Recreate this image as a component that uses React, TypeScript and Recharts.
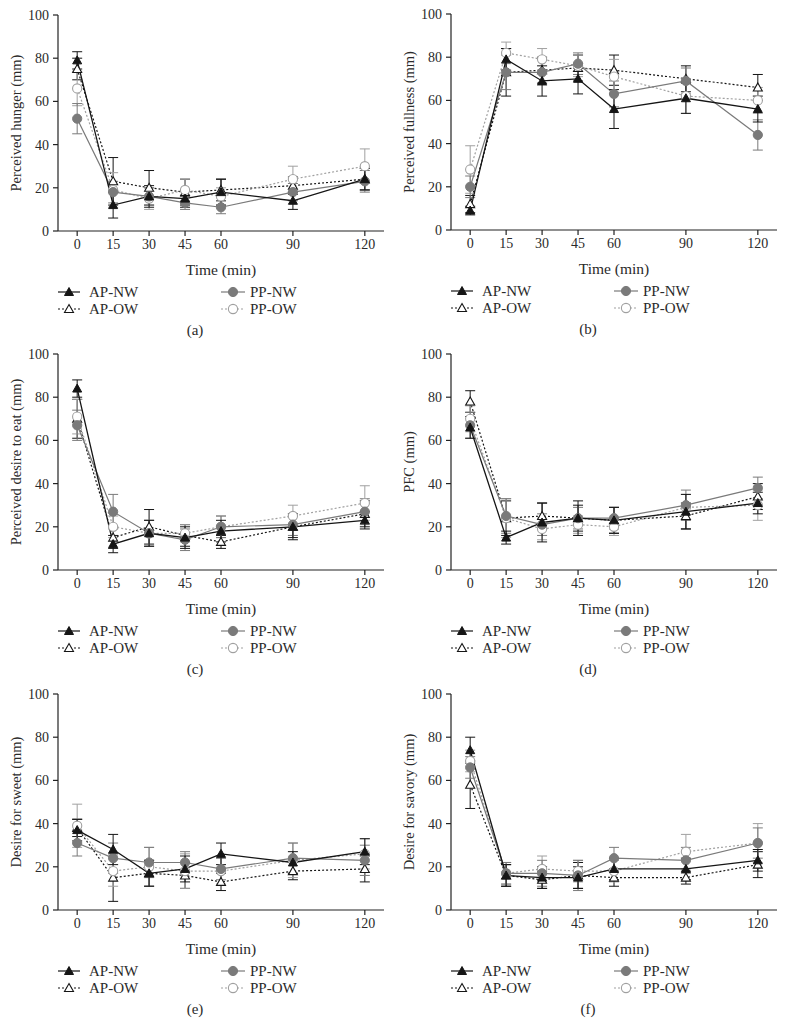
import React from "react";
import { LineChart, Line, XAxis, YAxis, ErrorBar } from "recharts";

const serif = "'Liberation Serif', 'DejaVu Serif', serif";

const times = [0, 15, 30, 45, 60, 90, 120];
const yTicks = [0, 20, 40, 60, 80, 100];

// (a) perceived hunger
const hungerApNw = [79, 12, 16, 15, 18, 14, 24];
const hungerApNwErr = [4, 6, 5, 4, 6, 4, 5];
const hungerApOw = [75, 23, 20, 18, 19, 21, 24];
const hungerApOwErr = [5, 11, 8, 6, 5, 4, 5];
const hungerPpNw = [52, 18, 16, 13, 11, 18, 23];
const hungerPpNwErr = [7, 5, 4, 3, 3, 4, 5];
const hungerPpOw = [66, 19, 15, 19, 16, 24, 30];
const hungerPpOwErr = [8, 8, 5, 5, 4, 6, 8];

// (b) perceived fullness
const fullApNw = [9, 79, 69, 70, 56, 61, 56];
const fullApNwErr = [2, 5, 7, 7, 9, 7, 6];
const fullApOw = [12, 73, 74, 75, 74, 70, 66];
const fullApOwErr = [4, 11, 6, 6, 7, 6, 6];
const fullPpNw = [20, 73, 73, 77, 63, 69, 44];
const fullPpNwErr = [5, 8, 6, 5, 6, 6, 7];
const fullPpOw = [28, 82, 79, 76, 71, 62, 60];
const fullPpOwErr = [11, 5, 5, 5, 8, 8, 6];

// (c) perceived desire to eat
const desireApNw = [84, 12, 17, 15, 18, 20, 23];
const desireApNwErr = [4, 4, 6, 5, 5, 5, 4];
const desireApOw = [70, 15, 20, 16, 13, 20, 26];
const desireApOwErr = [9, 5, 8, 5, 3, 6, 6];
const desirePpNw = [67, 27, 17, 14, 20, 21, 27];
const desirePpNwErr = [7, 8, 6, 5, 5, 5, 6];
const desirePpOw = [71, 20, 17, 17, 20, 25, 31];
const desirePpOwErr = [8, 5, 6, 4, 5, 5, 8];

// (d) PFC
const pfcApNw = [66, 15, 22, 24, 23, 27, 31];
const pfcApNwErr = [5, 3, 9, 8, 6, 8, 5];
const pfcApOw = [78, 24, 25, 24, 23, 25, 34];
const pfcApOwErr = [5, 8, 6, 6, 6, 6, 6];
const pfcPpNw = [67, 25, 21, 24, 24, 30, 38];
const pfcPpNwErr = [6, 8, 5, 5, 5, 7, 5];
const pfcPpOw = [70, 24, 19, 21, 20, 29, 30];
const pfcPpOwErr = [6, 9, 5, 4, 4, 6, 7];

// (e) desire for sweet
const sweetApNw = [37, 28, 17, 19, 26, 22, 27];
const sweetApNwErr = [5, 7, 6, 6, 5, 5, 6];
const sweetApOw = [38, 15, 17, 16, 13, 18, 19];
const sweetApOwErr = [4, 11, 6, 6, 4, 4, 6];
const sweetPpNw = [31, 24, 22, 22, 19, 24, 23];
const sweetPpNwErr = [6, 7, 7, 5, 5, 7, 7];
const sweetPpOw = [39, 18, 20, 18, 18, 23, 26];
const sweetPpOwErr = [10, 7, 9, 8, 6, 8, 7];

// (f) desire for savory
const savoryApNw = [74, 16, 15, 15, 19, 19, 23];
const savoryApNwErr = [6, 5, 5, 5, 5, 5, 5];
const savoryApOw = [58, 16, 14, 16, 15, 15, 21];
const savoryApOwErr = [11, 5, 4, 6, 4, 3, 6];
const savoryPpNw = [66, 17, 17, 16, 24, 23, 31];
const savoryPpNwErr = [5, 5, 6, 7, 5, 6, 7];
const savoryPpOw = [69, 17, 19, 18, 18, 27, 31];
const savoryPpOwErr = [5, 5, 6, 5, 5, 8, 9];

const black = "#151515";
const grayDark = "#7a7a7a";
const grayLight = "#a0a0a0";
const textColor = "#2a2a2a";

type Row = {
  t: number;
  apNw: number;
  apNwErr: number;
  apOw: number;
  apOwErr: number;
  ppNw: number;
  ppNwErr: number;
  ppOw: number;
  ppOwErr: number;
};

const buildRows = (
  apNw: number[],
  apNwErr: number[],
  apOw: number[],
  apOwErr: number[],
  ppNw: number[],
  ppNwErr: number[],
  ppOw: number[],
  ppOwErr: number[]
): Row[] =>
  times.map((t, i) => ({
    t,
    apNw: apNw[i],
    apNwErr: apNwErr[i],
    apOw: apOw[i],
    apOwErr: apOwErr[i],
    ppNw: ppNw[i],
    ppNwErr: ppNwErr[i],
    ppOw: ppOw[i],
    ppOwErr: ppOwErr[i],
  }));

const triPath = (cx: number, cy: number) =>
  `M${cx},${cy - 4.5} L${cx + 4.5},${cy + 3.5} L${cx - 4.5},${cy + 3.5} Z`;

const FilledTri = (props: any) => {
  const { cx, cy, index } = props;
  if (cx == null || cy == null) return <g key={index} />;
  return <path key={index} d={triPath(cx, cy)} fill={black} stroke={black} strokeWidth={1} />;
};

const OpenTri = (props: any) => {
  const { cx, cy, index } = props;
  if (cx == null || cy == null) return <g key={index} />;
  return <path key={index} d={triPath(cx, cy)} fill="#fff" stroke={black} strokeWidth={1.1} />;
};

const FilledCircle = (props: any) => {
  const { cx, cy, index } = props;
  if (cx == null || cy == null) return <g key={index} />;
  return <circle key={index} cx={cx} cy={cy} r={4.6} fill={grayDark} stroke={grayDark} />;
};

const OpenCircle = (props: any) => {
  const { cx, cy, index } = props;
  if (cx == null || cy == null) return <g key={index} />;
  return <circle key={index} cx={cx} cy={cy} r={4.6} fill="#fff" stroke={grayLight} strokeWidth={1.1} />;
};

const LegendBlock = () => (
  <svg width={390} height={40} style={{ position: "absolute", left: 0, top: 282 }}>
    <g fontFamily={serif} fontSize={15} fontWeight={400} fill={textColor}>
      <line x1={58} x2={80} y1={10} y2={10} stroke={black} strokeWidth={1.2} />
      <FilledTri cx={69} cy={10} index={0} />
      <text x={89} y={15}>AP-NW</text>
      <line x1={58} x2={80} y1={27} y2={27} stroke={black} strokeWidth={1.2} strokeDasharray="2 2" />
      <OpenTri cx={69} cy={27} index={1} />
      <text x={89} y={32}>AP-OW</text>
      <line x1={221} x2={245} y1={10} y2={10} stroke={grayDark} strokeWidth={1.2} />
      <FilledCircle cx={233} cy={10} index={2} />
      <text x={250} y={15}>PP-NW</text>
      <line x1={221} x2={245} y1={27} y2={27} stroke={grayLight} strokeWidth={1.2} strokeDasharray="2 2" />
      <OpenCircle cx={233} cy={27} index={3} />
      <text x={250} y={32}>PP-OW</text>
    </g>
  </svg>
);

type PanelProps = {
  left: number;
  top: number;
  title: string;
  caption: string;
  rows: Row[];
};

const Panel: React.FC<PanelProps> = ({ left, top, title, caption, rows }) => {
  const yLabel = () => (
    <text
      x={16}
      y={123}
      transform="rotate(-90 16 123)"
      textAnchor="middle"
      dominantBaseline="central"
      fontFamily={serif}
      fontSize={14.5}
      fontWeight={400}
      fill={textColor}
    >
      {title}
    </text>
  );

  return (
    <div style={{ position: "absolute", left, top, width: 390, height: 340 }}>
      <LineChart width={390} height={285} data={rows} margin={{ top: 15, right: 6, left: 0, bottom: 10 }}>
        <XAxis
          type="number"
          dataKey="t"
          domain={[-8, 128]}
          ticks={times}
          interval={0}
          height={44}
          tickSize={5}
          tickMargin={3}
          axisLine={{ stroke: "#222", strokeWidth: 1.2 }}
          tickLine={{ stroke: "#222", strokeWidth: 1.2 }}
          tick={{ fontSize: 14, fill: textColor, fontFamily: serif, fontWeight: 400 }}
          label={{
            value: "Time (min)",
            position: "insideBottom",
            offset: 0,
            fontSize: 15.5,
            fill: textColor,
            fontFamily: serif,
            fontWeight: 400,
          }}
        />
        <YAxis
          type="number"
          domain={[0, 100]}
          ticks={yTicks}
          interval={0}
          width={58}
          tickSize={5}
          tickMargin={4}
          axisLine={{ stroke: "#222", strokeWidth: 1.2 }}
          tickLine={{ stroke: "#222", strokeWidth: 1.2 }}
          tick={{ fontSize: 14, fill: textColor, fontFamily: serif, fontWeight: 400 }}
          label={{ content: yLabel }}
        />
        <Line
          dataKey="apOw"
          stroke={black}
          strokeWidth={1.2}
          strokeDasharray="2 2"
          dot={OpenTri}
          activeDot={false}
          isAnimationActive={false}
        >
          <ErrorBar dataKey="apOwErr" width={5} stroke={black} strokeWidth={1} isAnimationActive={false} />
        </Line>
        <Line
          dataKey="ppOw"
          stroke={grayLight}
          strokeWidth={1.2}
          strokeDasharray="2 2"
          dot={OpenCircle}
          activeDot={false}
          isAnimationActive={false}
        >
          <ErrorBar dataKey="ppOwErr" width={5} stroke={grayLight} strokeWidth={1} isAnimationActive={false} />
        </Line>
        <Line
          dataKey="ppNw"
          stroke={grayDark}
          strokeWidth={1.2}
          dot={FilledCircle}
          activeDot={false}
          isAnimationActive={false}
        >
          <ErrorBar dataKey="ppNwErr" width={5} stroke={grayDark} strokeWidth={1} isAnimationActive={false} />
        </Line>
        <Line
          dataKey="apNw"
          stroke={black}
          strokeWidth={1.3}
          dot={FilledTri}
          activeDot={false}
          isAnimationActive={false}
        >
          <ErrorBar dataKey="apNwErr" width={5} stroke={black} strokeWidth={1} isAnimationActive={false} />
        </Line>
      </LineChart>
      <LegendBlock />
      <div
        style={{
          position: "absolute",
          left: 0,
          width: 390,
          top: 322,
          textAlign: "center",
          fontFamily: serif,
          fontSize: 15,
          color: textColor,
        }}
      >
        {caption}
      </div>
    </div>
  );
};

const hungerRows = buildRows(hungerApNw, hungerApNwErr, hungerApOw, hungerApOwErr, hungerPpNw, hungerPpNwErr, hungerPpOw, hungerPpOwErr);
const fullRows = buildRows(fullApNw, fullApNwErr, fullApOw, fullApOwErr, fullPpNw, fullPpNwErr, fullPpOw, fullPpOwErr);
const desireRows = buildRows(desireApNw, desireApNwErr, desireApOw, desireApOwErr, desirePpNw, desirePpNwErr, desirePpOw, desirePpOwErr);
const pfcRows = buildRows(pfcApNw, pfcApNwErr, pfcApOw, pfcApOwErr, pfcPpNw, pfcPpNwErr, pfcPpOw, pfcPpOwErr);
const sweetRows = buildRows(sweetApNw, sweetApNwErr, sweetApOw, sweetApOwErr, sweetPpNw, sweetPpNwErr, sweetPpOw, sweetPpOwErr);
const savoryRows = buildRows(savoryApNw, savoryApNwErr, savoryApOw, savoryApOwErr, savoryPpNw, savoryPpNwErr, savoryPpOw, savoryPpOwErr);

export default function App() {
  return (
    <div style={{ position: "absolute", left: 0, top: 0, width: 785, height: 1025, background: "#fff", overflow: "hidden" }}>
      <Panel left={0} top={0} title="Perceived hunger (mm)" caption="(a)" rows={hungerRows} />
      <Panel left={393} top={-1} title="Perceived fullness (mm)" caption="(b)" rows={fullRows} />
      <Panel left={0} top={339} title="Perceived desire to eat (mm)" caption="(c)" rows={desireRows} />
      <Panel left={393} top={339} title="PFC (mm)" caption="(d)" rows={pfcRows} />
      <Panel left={0} top={679} title="Desire for sweet (mm)" caption="(e)" rows={sweetRows} />
      <Panel left={393} top={679} title="Desire for savory (mm)" caption="(f)" rows={savoryRows} />
    </div>
  );
}
